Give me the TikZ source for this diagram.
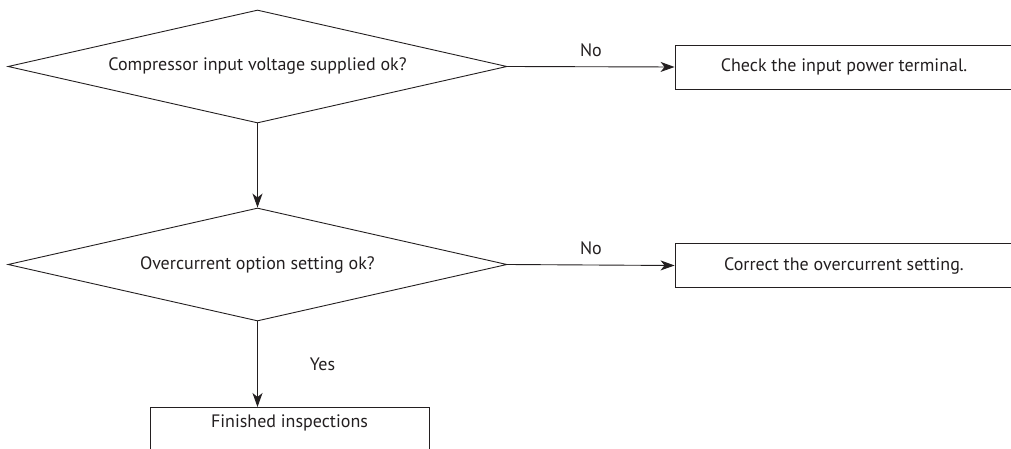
\documentclass[tikz,border=0pt]{standalone}
\usepackage{fontspec}
\setmainfont{PT Sans}
\usetikzlibrary{shapes.geometric,arrows.meta}
\definecolor{ink}{HTML}{231F20}
\begin{document}
\begin{tikzpicture}[x=1pt,y=-1pt,
  every node/.style={font=\fontsize{18}{21}\selectfont, text=ink},
  decision/.style={draw=ink, line width=0.9pt, diamond, aspect=4.4, inner sep=0pt, minimum width=499pt, minimum height=113pt},
  actbox/.style={draw=ink, line width=0.9pt, rectangle, inner sep=0pt, minimum width=338pt, minimum height=44pt},
  conn/.style={draw=ink, line width=0.9pt, -{Stealth[length=14pt,width=10pt,inset=4pt]}},
  lbl/.style={inner sep=0pt}]
\useasboundingbox (0,0) rectangle (1011,449);
\node[decision] (d1) at (257.5,66.5) {Compressor input voltage supplied ok?};
\node[decision] (d2) at (257.5,264.5) {Overcurrent option setting ok?};
\node[actbox] (b1) at (844,67) {Check the input power terminal.};
\node[actbox] (b2) at (844,265.5) {Correct the overcurrent setting.};
\node[draw=ink, line width=0.9pt, rectangle, anchor=north, minimum width=279pt, inner xsep=0pt, inner ysep=7pt, text height=13pt, text depth=50pt] (fin) at (289.5,407) {Finished inspections};
\draw[conn] (d1.east) -- node[lbl, above=10pt] {No} (b1.west);
\draw[conn] (d2.east) -- node[lbl, above=10pt] {No} (b2.west);
\draw[conn] (d1.south) -- (d2.north);
\draw[conn] (d2.south) -- node[lbl, right=52pt] {Yes} (d2.south |- fin.north);
\end{tikzpicture}
\end{document}
